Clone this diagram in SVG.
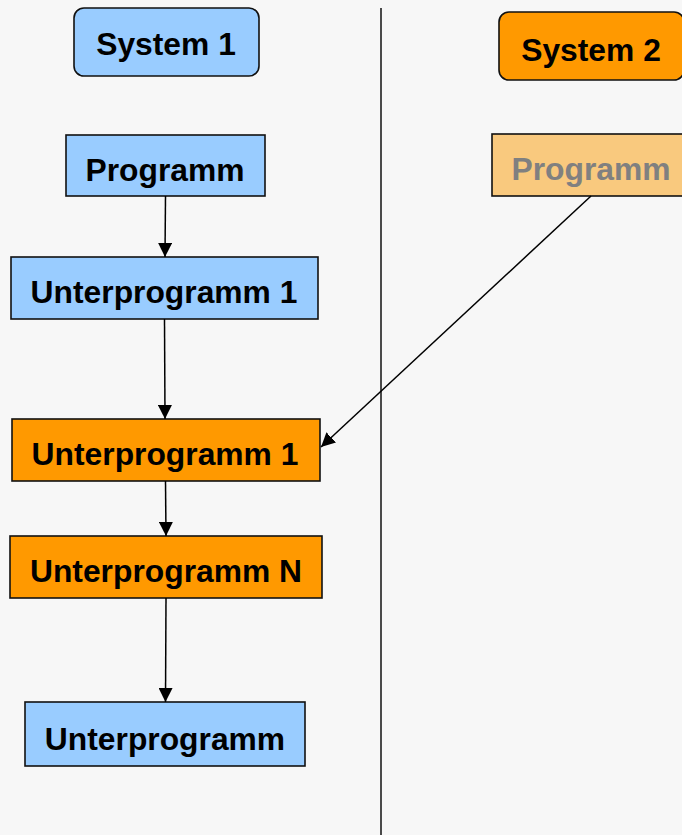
<svg xmlns="http://www.w3.org/2000/svg" width="682" height="835" viewBox="0 0 682 835">
<style>
.box{stroke:#111;stroke-width:1.6}
.blue{fill:#99ccff}
.orange{fill:#ff9900}
.pale{fill:#f9c97e}
.t{font-family:"Liberation Sans",Arial,sans-serif;font-weight:bold;font-size:31.8px;text-anchor:middle;fill:#000}
.gray{fill:#808080}
.conn{stroke:#000;stroke-width:1.5;fill:none;marker-end:url(#arr)}
</style>
<defs>
<marker id="arr" viewBox="0 0 10 10" refX="10" refY="5" markerWidth="14" markerHeight="14" markerUnits="userSpaceOnUse" orient="auto">
<path d="M0,0 L10,5 L0,10 z" fill="#000"/>
</marker>
</defs>
<rect width="682" height="835" fill="#f7f7f7"/>
<line x1="381" y1="8" x2="381" y2="835" stroke="#111" stroke-width="1.5"/>
<g id="system1"><rect class="box blue" x="74" y="8" width="185" height="68" rx="10"/><text class="t" x="166" y="55">System 1</text></g>
<g id="system2"><rect class="box orange" x="499" y="12" width="185" height="68" rx="10"/><text class="t" x="591" y="61">System 2</text></g>
<g id="programm1"><rect class="box blue" x="66" y="135" width="199" height="61"/><text class="t" x="165" y="181">Programm</text></g>
<g id="programm2"><rect class="box pale" x="492" y="134" width="199" height="62"/><text class="t gray" x="591" y="180">Programm</text></g>
<g id="up1blue"><rect class="box blue" x="11" y="257" width="307" height="62"/><text class="t" x="164" y="303">Unterprogramm 1</text></g>
<g id="up1orange"><rect class="box orange" x="12" y="419" width="308" height="62"/><text class="t" x="165" y="465">Unterprogramm 1</text></g>
<g id="upN"><rect class="box orange" x="10" y="536" width="312" height="62"/><text class="t" x="166" y="582">Unterprogramm N</text></g>
<g id="upBottom"><rect class="box blue" x="25" y="702" width="280" height="64"/><text class="t" x="165" y="750">Unterprogramm</text></g>
<g id="connectors">
<line class="conn" x1="165.5" y1="196" x2="165" y2="257"/>
<line class="conn" x1="164.5" y1="319" x2="165" y2="419"/>
<line class="conn" x1="165.5" y1="481" x2="166" y2="536"/>
<line class="conn" x1="166" y1="598" x2="165.5" y2="702"/>
<line class="conn" x1="591" y1="196" x2="321" y2="447"/>
</g>
</svg>
